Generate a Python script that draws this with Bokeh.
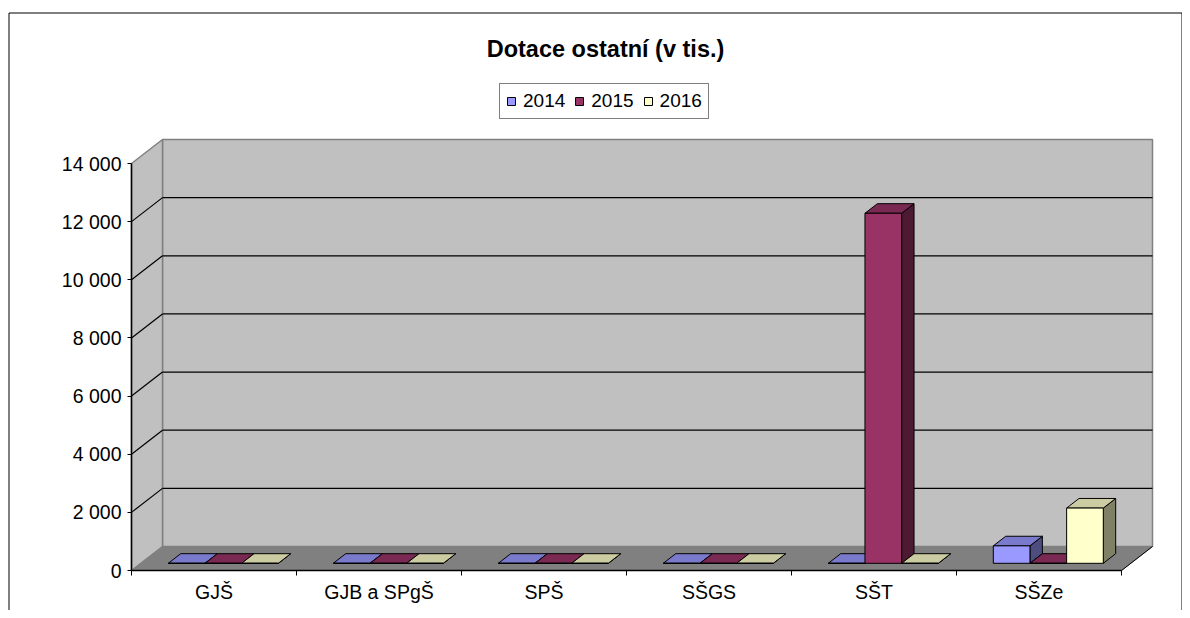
from bokeh.plotting import figure
from bokeh.models import Range1d, LinearAxis, FixedTicker, Label, Legend, LegendItem
from bokeh.embed import file_html
from bokeh.resources import INLINE

# ---------------- data ----------------
categories = ["GJŠ", "GJB a SPgŠ", "SPŠ", "SŠGS", "SŠT", "SŠZe"]
series_names = ["2014", "2015", "2016"]
v2014 = [0, 0, 0, 0, 0, 600]
v2015 = [0, 0, 0, 0, 12040, 0]
v2016 = [0, 0, 0, 0, 0, 1900]
y_ticks = [0, 2000, 4000, 6000, 8000, 10000, 12000, 14000]
y_tick_labels = ["0", "2 000", "4 000", "6 000", "8 000", "10 000", "12 000", "14 000"]
title_text = "Dotace ostatní (v tis.)"

series = [v2014, v2015, v2016]

# ---------------- styles ----------------
front_colors = ["#9999FF", "#993366", "#FFFFCC"]
top_colors = ["#7A7ACC", "#7A2952", "#CCCCA3"]
side_colors = ["#4D4D80", "#4D1A33", "#808066"]
FONT = "Liberation Sans"

W, H = 1182, 610
n = len(categories)
ymax = y_ticks[-1]
PX_X = 165.0                # pixels per category
PX_Y = 407.0 / ymax         # pixels per unit value
AX_LEFT = 131.0             # canvas x of the front value axis
AX_ZERO = 570.0             # canvas y (from top) of value 0
x_start = -AX_LEFT / PX_X
x_end = x_start + W / PX_X
y_start = -(H - AX_ZERO) / PX_Y
y_end = y_start + H / PX_Y

DX = 31.0 / PX_X            # depth offset (full depth) in data units
DY = 24.0 / PX_Y
D0, D1 = 0.3, 0.7           # bar depth span
BAR_W = 1.0 / 4.5
GAP = 0.75 * BAR_W


def cx(px):
    return x_start + px / PX_X


def cy(py):
    return y_end - py / PX_Y


def proj(x, y, d):
    return x + d * DX, y + d * DY


p = figure(width=W, height=H, x_range=Range1d(x_start, x_end), y_range=Range1d(y_start, y_end),
           output_backend="svg", toolbar_location=None, min_border=0,
           x_axis_type=None, y_axis_type=None)
p.title.visible = False
p.outline_line_color = None
p.background_fill_color = "white"
p.border_fill_color = "white"

# outer chart border (left, top, right)
p.line(x=[cx(8.5), cx(8.5), cx(1181.5), cx(1181.5)],
       y=[cy(H + 5), cy(12.5), cy(12.5), cy(H + 5)], line_color="black", line_width=1)

# back wall
p.patch(x=[DX, n + DX, n + DX, DX], y=[DY, DY, ymax + DY, ymax + DY],
        fill_color="#C0C0C0", line_color="#808080", line_width=1.5)
# side wall
p.patch(x=[0, DX, DX, 0], y=[0, DY, ymax + DY, ymax],
        fill_color="#C0C0C0", line_color="#808080", line_width=1.5)
# floor
p.patch(x=[0, n, n + DX, DX], y=[0, 0, DY, DY],
        fill_color="#808080", line_color="#808080", line_width=1)
p.line(x=[n, n + DX], y=[0, DY], line_color="black", line_width=1)

# gridlines on back wall and side wall
gx, gy = [], []
for v in y_ticks[1:-1]:
    gx.append([DX, n + DX]); gy.append([v + DY, v + DY])
    gx.append([0, DX]); gy.append([v, v + DY])
p.multi_line(xs=gx, ys=gy, line_color="black", line_width=1.2)

# bars
legend_items = []
for j, vals in enumerate(series):
    fx, fy, tx, ty, sx, sy = [], [], [], [], [], []
    for i, v in enumerate(vals):
        x0 = i + GAP + j * BAR_W
        x1 = x0 + BAR_W
        pts = [proj(x0, 0, D0), proj(x1, 0, D0), proj(x1, v, D0), proj(x0, v, D0)]
        fx.append([q[0] for q in pts]); fy.append([q[1] for q in pts])
        pts = [proj(x0, v, D0), proj(x1, v, D0), proj(x1, v, D1), proj(x0, v, D1)]
        tx.append([q[0] for q in pts]); ty.append([q[1] for q in pts])
        pts = [proj(x1, 0, D0), proj(x1, 0, D1), proj(x1, v, D1), proj(x1, v, D0)]
        sx.append([q[0] for q in pts]); sy.append([q[1] for q in pts])
    p.patches(xs=sx, ys=sy, fill_color=side_colors[j], line_color="black", line_width=1)
    p.patches(xs=tx, ys=ty, fill_color=top_colors[j], line_color="black", line_width=1)
    r = p.patches(xs=fx, ys=fy, fill_color=front_colors[j], line_color="black", line_width=1)
    legend_items.append(LegendItem(label=series_names[j], renderers=[r]))

# value axis
yaxis = LinearAxis(fixed_location=0, ticker=FixedTicker(ticks=y_ticks),
                   major_label_overrides={t: s for t, s in zip(y_ticks, y_tick_labels)},
                   bounds=(0, ymax))
yaxis.major_tick_out = 4
yaxis.major_tick_in = 0
yaxis.minor_tick_out = 0
yaxis.minor_tick_in = 0
yaxis.major_label_standoff = 6
yaxis.major_label_text_font = FONT
yaxis.major_label_text_font_size = "19.5px"
yaxis.major_label_text_color = "black"
yaxis.axis_line_color = "black"
yaxis.axis_line_width = 1.5
yaxis.major_tick_line_color = "black"
p.add_layout(yaxis, "left")

# category axis
centers = [i + 0.5 for i in range(n)]
bounds_ticks = [float(i) for i in range(n + 1)]
xaxis = LinearAxis(fixed_location=0, ticker=FixedTicker(ticks=centers, minor_ticks=bounds_ticks),
                   major_label_overrides={c: s for c, s in zip(centers, categories)},
                   bounds=(0, n))
xaxis.major_tick_line_color = None
xaxis.major_tick_out = 0
xaxis.major_tick_in = 0
xaxis.minor_tick_out = 5
xaxis.minor_tick_in = 0
xaxis.minor_tick_line_color = "black"
xaxis.major_label_standoff = 5
xaxis.major_label_text_font = FONT
xaxis.major_label_text_font_size = "19.5px"
xaxis.major_label_text_color = "black"
xaxis.axis_line_color = "black"
xaxis.axis_line_width = 1.5
p.add_layout(xaxis, "below")

# title
p.add_layout(Label(x=cx(605), y=cy(48), text=title_text, text_align="center",
                   text_baseline="middle", text_font=FONT, text_font_size="23.5px",
                   text_font_style="bold", text_color="black"))

# legend
legend = Legend(items=legend_items, orientation="horizontal", location=(499, H - 119),
                label_text_font=FONT, label_text_font_size="19px", label_text_color="black",
                glyph_width=10, glyph_height=10, label_standoff=7, spacing=9, padding=6,
                margin=0, label_height=17, border_line_color="black", border_line_width=1,
                background_fill_color="white", background_fill_alpha=1.0)
p.add_layout(legend)

open("out.html", "w").write(file_html(p, INLINE))
